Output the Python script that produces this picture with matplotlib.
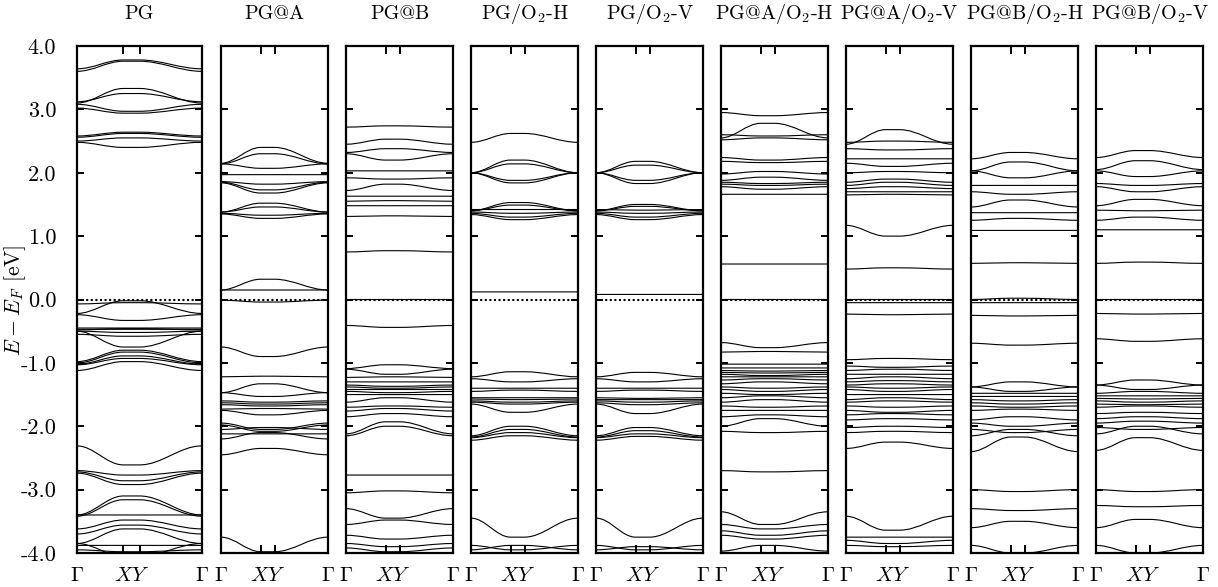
import matplotlib
matplotlib.use('Agg')
import matplotlib.pyplot as plt
from matplotlib.path import Path
from matplotlib.patches import PathPatch

plt.rcParams['mathtext.fontset'] = 'cm'
plt.rcParams['font.family'] = ['cmr10', 'DejaVu Serif']
plt.rcParams['axes.unicode_minus'] = False

titles = ['PG', 'PG@A', 'PG@B', 'PG/O$_2$-H', 'PG/O$_2$-V',
          'PG@A/O$_2$-H', 'PG@A/O$_2$-V', 'PG@B/O$_2$-H', 'PG@B/O$_2$-V']
y_ticks = [-4, -3, -2, -1, 0, 1, 2, 3, 4]
y_labels = ['-4.0', '-3.0', '-2.0', '-1.0', '0.0', '1.0', '2.0', '3.0', '4.0']

# k-path Gamma - X - Y - Gamma (fraction of panel width)
k_x = 0.37
k_y = 0.50

# band energies in eV: (at Gamma, at X/Y)
pg = [(3.64, 3.78), (3.60, 3.76), (3.10, 3.33), (3.12, 3.25), (3.08, 2.97), (3.02, 2.94),
      (2.58, 2.64), (2.56, 2.62), (2.50, 2.55), (2.48, 2.40),
      (-0.07, -0.05), (-0.22, -0.02), (-0.24, -0.33), (-0.45, -0.45), (-0.47, -0.47),
      (-0.48, -0.46), (-0.50, -0.52), (-0.50, -0.75), (-0.55, -0.58),
      (-0.98, -0.80), (-1.00, -0.83), (-1.02, -0.89), (-1.03, -0.93), (-1.12, -0.98),
      (-2.31, -2.61), (-2.70, -2.77), (-2.72, -2.86), (-2.74, -2.92),
      (-3.40, -3.10), (-3.42, -3.16), (-3.40, -3.40), (-3.62, -3.48), (-3.70, -3.56),
      (-3.85, -3.62), (-3.88, -3.88), (-3.85, -4.05), (-3.95, -3.98)]
pg_a = [(2.15, 2.40), (2.14, 2.30), (2.14, 2.07), (1.97, 1.97), (1.86, 1.82), (1.84, 1.68),
        (1.85, 1.73), (1.38, 1.52), (1.38, 1.46), (1.36, 1.33), (1.35, 1.28),
        (0.15, 0.32), (0.15, 0.15), (-0.01, -0.04), (-0.75, -0.90), (-1.22, -1.21),
        (-1.47, -1.33), (-1.47, -1.53), (-1.60, -1.62), (-1.63, -1.65), (-1.66, -1.68),
        (-1.73, -1.72), (-1.75, -1.82), (-1.95, -2.05), (-1.98, -2.08), (-2.05, -2.02),
        (-2.12, -2.12), (-2.20, -2.10), (-2.45, -2.35), (-3.75, -3.98)]
pg_b = [(2.72, 2.74), (2.45, 2.53), (2.32, 2.38), (2.30, 2.20), (2.03, 2.03), (1.92, 1.90),
        (1.72, 1.82), (1.63, 1.63), (1.55, 1.56), (1.48, 1.48), (1.31, 1.32),
        (0.75, 0.77), (0.0, 0.0), (-0.41, -0.44), (-1.09, -1.03), (-1.10, -1.18),
        (-1.23, -1.22), (-1.30, -1.30), (-1.35, -1.37), (-1.38, -1.40), (-1.42, -1.42),
        (-1.45, -1.47), (-1.50, -1.50), (-1.62, -1.55), (-1.70, -1.68), (-1.76, -1.72),
        (-1.85, -1.80), (-2.12, -1.93), (-2.15, -2.00), (-2.77, -2.77), (-3.05, -3.02),
        (-3.30, -3.45), (-3.55, -3.48), (-3.72, -3.78), (-3.85, -3.90), (-3.92, -3.98)]
pg_o2_h = [(2.48, 2.62), (2.00, 2.20), (2.00, 2.14), (2.00, 1.88), (2.00, 1.84),
           (1.40, 1.53), (1.40, 1.49), (1.42, 1.42), (1.38, 1.36), (1.36, 1.30), (1.34, 1.26),
           (0.12, 0.12), (-1.22, -1.14), (-1.25, -1.30), (-1.40, -1.40), (-1.45, -1.43),
           (-1.55, -1.55), (-1.57, -1.58), (-1.60, -1.62), (-1.62, -1.65), (-1.65, -1.78),
           (-2.15, -2.00), (-2.17, -2.05), (-2.18, -2.10), (-2.22, -2.15),
           (-3.45, -3.75), (-3.88, -3.95), (-3.95, -3.88)]
pg_o2_v = [(2.00, 2.18), (2.00, 2.12), (2.00, 1.88), (2.00, 1.83),
           (1.40, 1.50), (1.40, 1.47), (1.42, 1.41), (1.38, 1.36), (1.36, 1.30), (1.34, 1.26),
           (0.08, 0.08), (-1.22, -1.15), (-1.25, -1.30), (-1.40, -1.40), (-1.45, -1.43),
           (-1.55, -1.56), (-1.58, -1.58), (-1.60, -1.62), (-1.63, -1.66), (-1.65, -1.80),
           (-2.15, -2.02), (-2.17, -2.07), (-2.18, -2.12), (-2.22, -2.16),
           (-3.45, -3.75), (-3.88, -3.95), (-3.95, -3.90)]
pg_a_o2_h = [(2.95, 2.90), (2.55, 2.78), (2.60, 2.58), (2.52, 2.55), (2.24, 2.20), (2.18, 2.16),
             (1.98, 2.02), (1.88, 1.93), (1.85, 1.83), (1.82, 1.80), (1.78, 1.74), (1.66, 1.66),
             (0.56, 0.56), (0.0, 0.0), (-0.68, -0.76), (-0.83, -0.82),
             (-1.02, -1.02), (-1.08, -1.08), (-1.12, -1.13), (-1.15, -1.16), (-1.18, -1.20),
             (-1.22, -1.22), (-1.27, -1.25), (-1.33, -1.30), (-1.38, -1.40), (-1.42, -1.45),
             (-1.48, -1.50), (-1.55, -1.52), (-1.62, -1.58), (-1.68, -1.70), (-1.75, -1.75),
             (-1.85, -1.82), (-2.00, -1.88), (-2.08, -2.10), (-2.70, -2.72),
             (-3.35, -3.55), (-3.55, -3.62), (-3.65, -3.72), (-3.72, -3.78), (-3.97, -3.88)]
pg_a_o2_v = [(2.45, 2.68), (2.48, 2.50), (2.38, 2.36), (2.22, 2.22), (2.15, 2.10), (2.00, 2.02),
             (1.85, 1.90), (1.80, 1.85), (1.75, 1.78), (1.70, 1.70), (1.65, 1.66),
             (1.17, 1.00), (0.48, 0.50), (0.0, 0.0), (-0.05, -0.05), (-0.23, -0.24),
             (-0.95, -0.93), (-1.05, -1.07), (-1.12, -1.10), (-1.18, -1.18), (-1.25, -1.22),
             (-1.30, -1.28), (-1.35, -1.33), (-1.38, -1.40), (-1.42, -1.45), (-1.50, -1.50),
             (-1.58, -1.55), (-1.62, -1.60), (-1.68, -1.70), (-1.75, -1.78), (-1.82, -1.80),
             (-1.90, -1.88), (-2.02, -2.00), (-2.10, -2.08), (-2.35, -2.25),
             (-3.42, -3.64), (-3.75, -3.75), (-3.80, -3.85), (-3.88, -3.90)]
pg_b_o2_h = [(2.22, 2.32), (2.03, 2.17), (2.03, 1.92), (1.80, 1.80), (1.70, 1.66), (1.46, 1.57),
             (1.37, 1.37), (1.25, 1.28), (1.09, 1.09), (0.57, 0.58), (0.0, 0.02),
             (-0.05, -0.05), (-0.25, -0.26), (-0.69, -0.72), (-1.38, -1.30), (-1.38, -1.45),
             (-1.48, -1.48), (-1.53, -1.53), (-1.58, -1.60), (-1.63, -1.65), (-1.68, -1.70),
             (-1.75, -1.73), (-1.90, -1.85), (-1.95, -2.00), (-2.05, -2.10), (-2.15, -2.05),
             (-2.40, -2.17), (-3.00, -3.03), (-3.30, -3.33), (-3.60, -3.50), (-3.88, -4.00)]
pg_b_o2_v = [(2.24, 2.35), (2.05, 2.19), (2.03, 1.94), (1.83, 1.80), (1.78, 1.70), (1.48, 1.58),
             (1.41, 1.40), (1.25, 1.30), (1.10, 1.10), (0.57, 0.59), (0.0, 0.0),
             (-0.22, -0.23), (-0.62, -0.66), (-1.35, -1.27), (-1.35, -1.42), (-1.48, -1.45),
             (-1.52, -1.52), (-1.56, -1.57), (-1.60, -1.62), (-1.65, -1.66), (-1.70, -1.68),
             (-1.80, -1.78), (-1.88, -1.85), (-1.95, -1.92), (-2.02, -2.05), (-2.12, -2.00),
             (-2.38, -2.18), (-3.00, -3.03), (-3.25, -3.27), (-3.60, -3.47), (-3.88, -4.00)]

bands = [pg, pg_a, pg_b, pg_o2_h, pg_o2_v, pg_a_o2_h, pg_a_o2_v, pg_b_o2_h, pg_b_o2_v]

# panel boxes in pixels (left, width)
W, H = 1218, 587
lefts = [77, 221, 346, 471, 596, 721, 846, 971, 1096]
widths = [125, 107, 107, 107, 107, 107, 107, 107, 107]
top, bottom = 46, 553


def band_patch(e_g, e_xy):
    # smooth band: Gamma -> X, flat X -> Y, Y -> Gamma
    h = 0.36
    verts = [(0, e_g), (h * k_x, e_g), (k_x - h * k_x, e_xy), (k_x, e_xy),
             (k_y, e_xy),
             (k_y + h * (1 - k_y), e_xy), (1 - h * (1 - k_y), e_g), (1, e_g)]
    codes = [Path.MOVETO, Path.CURVE4, Path.CURVE4, Path.CURVE4, Path.LINETO,
             Path.CURVE4, Path.CURVE4, Path.CURVE4]
    return PathPatch(Path(verts, codes), fill=False, lw=0.8, edgecolor='k')


fig = plt.figure(figsize=(W / 100, H / 100), dpi=100)

for i in range(9):
    ax = fig.add_axes([lefts[i] / W, (H - bottom) / H, widths[i] / W, (bottom - top) / H])
    for e_g, e_xy in bands[i]:
        ax.add_patch(band_patch(e_g, e_xy))
    ax.axhline(0, color='k', lw=1.5, ls=(0, (1, 1.2)))
    ax.set_xlim(0, 1)
    ax.set_ylim(-4, 4)
    for s in ax.spines.values():
        s.set_linewidth(1.6)
    ax.set_yticks(y_ticks)
    if i == 0:
        ax.set_yticklabels(y_labels, fontsize=16)
    else:
        ax.set_yticklabels([])
    ax.tick_params(axis='y', direction='in', left=True, right=True, length=5, width=1.4, pad=15)
    ax.set_xticks([k_x, k_y])
    ax.set_xticklabels([])
    ax.tick_params(axis='x', which='major', direction='in', top=True, bottom=True, length=6, width=1.4)
    ax.set_xticks([0, (k_x + k_y) / 2, 1], [r'$\Gamma$', r'$XY$', r'$\Gamma$'], minor=True)
    ax.tick_params(axis='x', which='minor', length=0, pad=10, labelsize=15)
    fig.text((lefts[i] + widths[i] / 2) / W, 1 - 14 / H, titles[i], ha='center', va='center', fontsize=14.5)

fig.text(15 / W, 1 - 300 / H, r'$E - E_F$ [eV]', rotation=90, ha='center', va='center', fontsize=15.5)

fig.savefig('out.png', dpi=100)
